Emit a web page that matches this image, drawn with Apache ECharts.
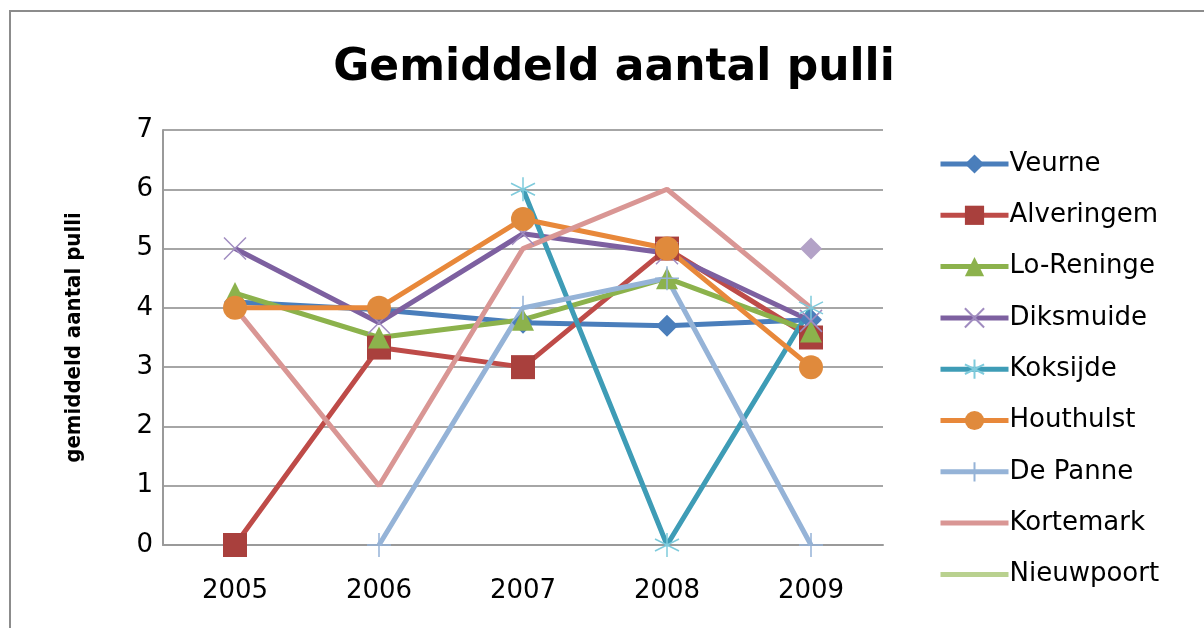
<!DOCTYPE html>
<html>
<head>
<meta charset="utf-8">
<script src="https://cdn.jsdelivr.net/npm/echarts@6/dist/echarts.min.js"></script>
<style>
  html, body { margin: 0; padding: 0; background: #fff; }
  #chart { width: 1204px; height: 628px; }
</style>
</head>
<body>
<div id="chart"></div>
<script>
// jaren (categorieën)
const years = ["2005", "2006", "2007", "2008", "2009"];

// gemiddeld aantal pulli per gemeente
const veurne     = [4.1, 3.97, 3.75, 3.7, 3.8];
const alveringem = [0, 3.33, 3, 5, 3.5];
const loReninge  = [4.25, 3.5, 3.8, 4.5, 3.6];
const diksmuide  = [5, 3.75, 5.25, 4.92, 3.78];
const koksijde   = [null, null, 6, 0, 4];
const houthulst  = [4, 4, 5.5, 5, 3];
const dePanne    = [null, 0, 4, 4.5, 0];
const kortemark  = [4, 1, 5, 6, 4];
const nieuwpoort = [null, null, null, null, null];
const reeks10    = [null, null, null, null, 5];

const X_PATH = "path://M0,0L10,10M10,0L0,10";
const STAR_PATH = "path://M5,0L5,10M0,2.5L10,7.5M10,2.5L0,7.5";
const PLUS_PATH = "path://M5,0L5,10M0,5L10,5";
const BAR_ICON = "path://M0,0L68,0L68,5L0,5Z";

const legendData = [
  { name: "Veurne" },
  { name: "Alveringem" },
  { name: "Lo-Reninge" },
  { name: "Diksmuide" },
  { name: "Koksijde" },
  { name: "Houthulst" },
  { name: "De Panne" },
  { name: "Kortemark", icon: BAR_ICON, itemStyle: { color: "#d99694" } },
  { name: "Nieuwpoort", icon: BAR_ICON, itemStyle: { color: "#b9d18f" } }
];

function lineSeries(name, data, color, symbol, size, markerColor, stroke) {
  return {
    name: name,
    type: "line",
    data: data,
    symbol: symbol,
    symbolSize: size,
    connectNulls: false,
    lineStyle: { color: color, width: 5 },
    itemStyle: stroke
      ? { color: markerColor, borderColor: markerColor, borderWidth: 1.5 }
      : { color: markerColor, borderWidth: 0 },
    emphasis: { disabled: true },
    z: 2
  };
}

const chart = echarts.init(document.getElementById("chart"));

const option = {
  animation: false,
  textStyle: { fontFamily: "DejaVu Sans" },
  graphic: [
    {
      type: "polyline",
      shape: { points: [[10, 640], [10, 11], [1220, 11]] },
      style: { stroke: "#8c8c8c", lineWidth: 2, fill: null },
      silent: true
    }
  ],
  title: {
    text: "Gemiddeld aantal pulli",
    left: 609,
    top: 42,
    textAlign: "center",
    textStyle: { fontFamily: "DejaVu Sans", fontWeight: "bold", fontSize: 44, color: "#000" }
  },
  legend: {
    data: legendData,
    orient: "vertical",
    left: 933,
    top: 146,
    itemWidth: 68,
    itemHeight: 24,
    itemGap: 25.3,
    lineStyle: { width: 5 },
    textStyle: { fontSize: 26, color: "#000", padding: [0, 0, 0, -4] }
  },
  grid: { left: 163, right: 321, top: 130, bottom: 83 },
  xAxis: {
    type: "category",
    data: years,
    boundaryGap: true,
    axisLine: { lineStyle: { color: "#9a9a9a", width: 2 } },
    axisTick: { show: false },
    axisLabel: { fontSize: 26, color: "#000", margin: 33 }
  },
  yAxis: {
    type: "value",
    min: 0,
    max: 7,
    interval: 1,
    name: "gemiddeld aantal pulli",
    nameLocation: "middle",
    nameGap: 78,
    nameTextStyle: { fontFamily: "DejaVu Sans Condensed", fontWeight: "bold", fontSize: 22, color: "#000" },
    axisLine: { show: true, lineStyle: { color: "#9a9a9a", width: 2 } },
    axisTick: { show: false },
    axisLabel: { fontSize: 26, color: "#000", margin: 10 },
    splitLine: { lineStyle: { color: "#a6a6a6", width: 2 } }
  },
  series: [
    lineSeries("Veurne", veurne, "#4a7ebb", "diamond", 22, "#4a7ebb", false),
    lineSeries("Alveringem", alveringem, "#be4b48", "rect", 24, "#a9403d", false),
    lineSeries("Lo-Reninge", loReninge, "#8cb24c", "triangle", 22, "#8cb24c", false),
    lineSeries("Diksmuide", diksmuide, "#7d60a0", X_PATH, 22, "#a08cc0", true),
    lineSeries("Koksijde", koksijde, "#3e9cb6", STAR_PATH, 24, "#7fcbdc", true),
    lineSeries("Houthulst", houthulst, "#e8883a", "circle", 24, "#e08a3c", false),
    lineSeries("De Panne", dePanne, "#95b3d7", PLUS_PATH, 24, "#95b3d7", true),
    lineSeries("Kortemark", kortemark, "#d99694", "none", 0, "#d99694", false),
    lineSeries("Nieuwpoort", nieuwpoort, "#b9d18f", "none", 0, "#b9d18f", false),
    lineSeries("Reeks10", reeks10, "#b3a2c7", "diamond", 22, "#b3a2c7", false)
  ]
};

chart.setOption(option);
</script>
</body>
</html>
